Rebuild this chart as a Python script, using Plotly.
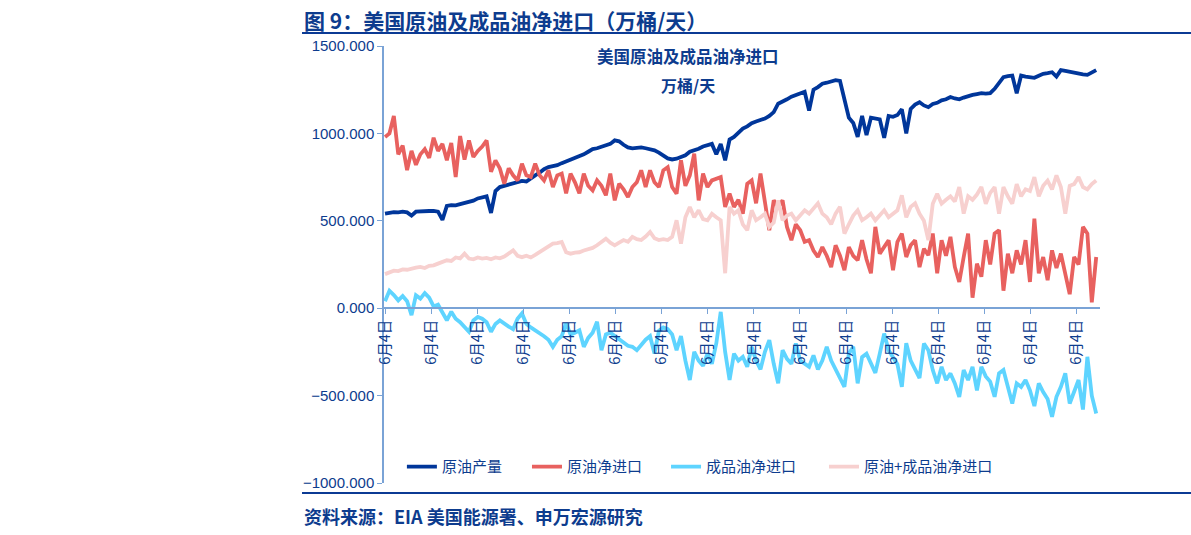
import pandas as pd
import plotly.graph_objects as go

start_date = "2010-06-04"
n_points = 162
dates = pd.date_range(start=start_date, periods=n_points, freq="35D")

crude_production = [
    541, 545, 550, 548, 552, 548, 530, 552, 555, 553, 556, 557, 552, 505, 585, 590, 588, 595, 600, 607,
    615, 628, 636, 640, 545, 670, 693, 700, 705, 712, 718, 728, 725, 745, 760, 775, 795, 807, 812, 818,
    830, 840, 847, 855, 865, 880, 895, 910, 915, 925, 931, 940, 960, 955, 935, 920, 914, 918, 920, 915,
    908, 903, 890, 875, 857, 851, 855, 865, 875, 895, 903, 912, 925, 931, 940, 880, 940, 846, 965, 980,
    1005, 1027, 1040, 1058, 1068, 1075, 1085, 1100, 1122, 1170, 1180, 1195, 1210, 1218, 1230, 1238, 1131, 1250, 1265, 1284,
    1290, 1298, 1305, 1300, 1190, 1090, 1060, 980, 1100, 990, 1090, 1085, 1080, 975, 1100, 1095, 1105, 1138, 1000, 1140,
    1165, 1178, 1160, 1150, 1168, 1175, 1189, 1195, 1208, 1200, 1195, 1205, 1215, 1220, 1225, 1230, 1228, 1230, 1255, 1290,
    1322, 1328, 1331, 1230, 1331, 1325, 1320, 1318, 1330, 1341, 1345, 1350, 1325, 1362, 1358, 1352, 1350, 1342, 1338, 1335,
    1350, 1362,
]

crude_net_imports = [
    979, 1000, 1100, 880, 930, 790, 900, 820, 880, 910, 860, 975, 900, 940, 846, 945, 750, 985, 850, 960,
    865, 900, 925, 960, 780, 846, 800, 712, 800, 760, 731, 827, 760, 750, 827, 760, 731, 789, 693, 760,
    770, 657, 770, 720, 657, 770, 700, 674, 731, 700, 646, 770, 617, 712, 680, 636, 693, 720, 789, 693,
    789, 720, 693, 789, 807, 693, 655, 846, 700, 760, 884, 617, 770, 693, 731, 740, 750, 579, 655, 579,
    620, 541, 712, 731, 600, 770, 617, 446, 617, 580, 617, 465, 389, 480, 446, 380, 389, 330, 293, 350,
    300, 235, 360, 300, 217, 350, 300, 274, 389, 280, 200, 465, 312, 350, 389, 217, 380, 427, 293, 360,
    389, 235, 340, 303, 427, 200, 389, 300, 408, 236, 150, 293, 427, 60, 255, 180, 389, 250, 427, 446,
    100, 312, 200, 331, 250, 389, 150, 512, 200, 293, 160, 331, 230, 312, 200, 80, 293, 250, 465, 427,
    34, 293,
]

product_net_imports = [
    40, 100, 75, 45, 70, 40, -40, 74, 55, 86, 60, 10, 20, -30, -69, -20, -60, -80, -110, -135,
    -70, -50, -60, -80, -135, -90, -70, -90, -105, -120, -60, -30, -90, -110, -125, -145, -160, -180, -221, -180,
    -160, -88, -150, -140, -126, -221, -170, -140, -78, -240, -150, -140, -160, -180, -200, -215, -221, -240, -210, -180,
    -160, -260, -130, -110, -120, -150, -240, -160, -300, -411, -250, -300, -330, -260, -318, -200, -21, -250, -411, -260,
    -300, -278, -335, -221, -300, -350, -250, -183, -318, -430, -240, -290, -318, -202, -300, -320, -335, -270, -350, -300,
    -221, -300, -350, -390, -450, -260, -221, -430, -280, -260, -318, -370, -260, -145, -240, -280, -320, -450, -200, -300,
    -350, -400, -202, -240, -354, -430, -335, -411, -373, -430, -507, -354, -411, -335, -470, -335, -390, -420, -507, -373,
    -354, -450, -545, -430, -450, -411, -470, -560, -430, -480, -520, -621, -507, -450, -373, -545, -470, -411, -580, -278,
    -500, -602,
]

crude_plus_products = [
    195, 205, 215, 212, 222, 220, 228, 232, 236, 230, 242, 245, 255, 262, 274, 270, 290, 285, 312, 284,
    280, 290, 284, 288, 280, 290, 285, 295, 310, 331, 300, 292, 300, 290, 305, 320, 341, 355, 369, 372,
    379, 320, 312, 318, 320, 330, 338, 345, 360, 380, 398, 375, 360, 375, 390, 380, 408, 395, 390, 410,
    436, 400, 390, 395, 390, 408, 503, 369, 520, 579, 520, 560, 510, 503, 540, 520, 503, 200, 579, 540,
    560, 480, 446, 560, 503, 520, 540, 465, 490, 617, 503, 530, 541, 503, 530, 560, 541, 570, 600, 541,
    520, 480, 541, 580, 427, 480, 530, 560, 503, 520, 541, 503, 530, 560, 520, 540, 560, 646, 520, 580,
    600, 541, 500, 389, 598, 655, 598, 620, 640, 610, 693, 541, 640, 620, 650, 693, 598, 660, 693, 541,
    693, 640, 598, 710, 640, 680, 670, 750, 640, 700, 730, 680, 760, 693, 541, 700, 710, 750, 693, 680,
    710, 731,
]

series_names = ["原油产量", "原油净进口", "成品油净进口", "原油+成品油净进口"]
series_colors = ["#00369A", "#E8615F", "#5ED4FF", "#F7D0CF"]
series_values = [crude_production, crude_net_imports, product_net_imports, crude_plus_products]
legend_ids = ["legend", "legend2", "legend3", "legend4"]
legend_x = [0.025, 0.1997, 0.3939, 0.6145]

tick_years = list(range(2010, 2026))
tick_dates = [f"{y}-06-04" for y in tick_years]
tick_labels = ["6月4日"] * len(tick_dates)

y_ticks = [-1000, -500, 0, 500, 1000, 1500]

NAVY = "#0D3C8E"
AXIS = "#7AA3D6"
CJK = "Noto Sans CJK SC, sans-serif"

fig = go.Figure()
for name, color, vals, lg in zip(series_names, series_colors, series_values, legend_ids):
    fig.add_trace(go.Scatter(
        x=dates, y=vals, name=name, mode="lines",
        line=dict(color=color, width=3.8), legend=lg,
    ))

legend_common = dict(
    orientation="h", y=0.037, xanchor="left", yanchor="middle",
    font=dict(size=15, color=NAVY, family=CJK),
    bgcolor="rgba(0,0,0,0)", itemwidth=30,
)

fig.update_layout(
    width=1191, height=535,
    margin=dict(l=384, r=91, t=46, b=52),
    paper_bgcolor="white", plot_bgcolor="white",
    font=dict(family="Liberation Sans, Noto Sans CJK SC, sans-serif", color=NAVY, size=13),
    showlegend=True,
    legend=dict(x=legend_x[0], **legend_common),
    legend2=dict(x=legend_x[1], **legend_common),
    legend3=dict(x=legend_x[2], **legend_common),
    legend4=dict(x=legend_x[3], **legend_common),
    xaxis=dict(
        type="date",
        range=["2010-05-27", "2025-12-07"],
        tickvals=tick_dates, ticktext=tick_labels, tickangle=-90,
        tickfont=dict(size=14.5, color=NAVY, family=CJK),
        showgrid=False, zeroline=False,
        showline=True, linecolor=AXIS, linewidth=1.5,
        ticks="outside", ticklen=5, tickcolor=AXIS,
        anchor="free", position=0.4,
    ),
    yaxis=dict(
        range=[-1000, 1500], tickvals=y_ticks, tickformat=".3f",
        tickfont=dict(size=15, color=NAVY),
        showgrid=False, zeroline=False,
        showline=True, linecolor=AXIS, linewidth=1.5,
        ticks="outside", ticklen=5, tickcolor=AXIS,
    ),
)

fig.add_annotation(
    text="<b>图 9：美国原油及成品油净进口（万桶/天）</b>",
    xref="paper", yref="paper", x=-0.1145, y=1.0595, xanchor="left", yanchor="middle",
    showarrow=False, font=dict(size=21, color=NAVY, family=CJK),
)
fig.add_annotation(
    text="<b>美国原油及成品油净进口</b>",
    xref="paper", yref="paper", x=0.4246, y=0.977, xanchor="center", yanchor="middle",
    showarrow=False, font=dict(size=16.5, color=NAVY, family=CJK),
)
fig.add_annotation(
    text="<b>万桶/天</b>",
    xref="paper", yref="paper", x=0.4246, y=0.911, xanchor="center", yanchor="middle",
    showarrow=False, font=dict(size=16, color=NAVY, family=CJK),
)
fig.add_annotation(
    text="<b>资料来源：EIA 美国能源署、申万宏源研究</b>",
    xref="paper", yref="paper", x=-0.1145, y=-0.0755, xanchor="left", yanchor="middle",
    showarrow=False, font=dict(size=18, color=NAVY, family=CJK),
)
fig.add_shape(type="line", xref="paper", yref="paper", x0=-0.1145, x1=1.128, y0=1.0297, y1=1.0297,
              line=dict(color="#0B3A94", width=2))
fig.add_shape(type="line", xref="paper", yref="paper", x0=-0.1145, x1=1.128, y0=-0.0229, y1=-0.0229,
              line=dict(color="#0B3A94", width=2))

fig.write_html("out.html")
